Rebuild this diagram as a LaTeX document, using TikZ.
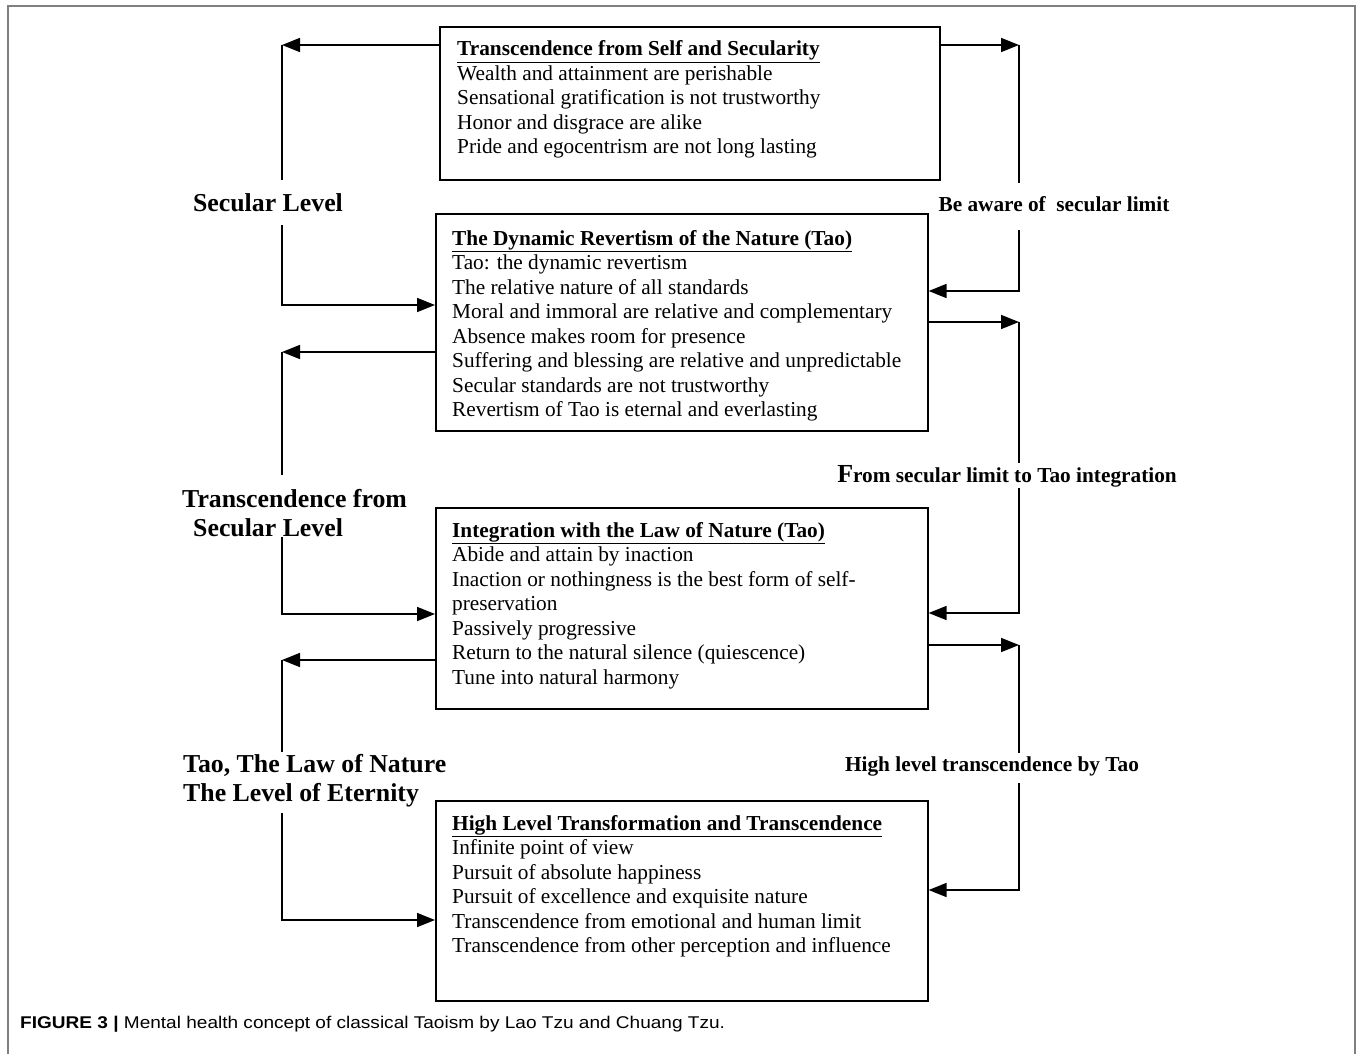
\documentclass[tikz,border=0pt]{standalone}
\usepackage{fontspec}
\setmainfont{Liberation Serif}
\newfontfamily\capfont[FakeStretch=1.12]{Liberation Sans}
\usetikzlibrary{arrows.meta}
\begin{document}
\begin{tikzpicture}[x=1pt,y=-1pt,
  box/.style={draw, line width=1.6pt, inner sep=0pt, anchor=north west},
  body/.style={anchor=north west, inner sep=0pt, align=left, font=\fontsize{21.3}{24.5}\selectfont},
  conn/.style={line width=1.6pt},
  arr/.style={conn, -{Triangle[length=18pt,width=14pt]}},
  llab/.style={font=\bfseries\fontsize{25.8}{29}\selectfont, inner sep=0pt, align=left},
  rlab/.style={font=\bfseries\fontsize{21.3}{24}\selectfont, inner sep=0pt, anchor=base}]
\useasboundingbox (0,0) rectangle (1357,1054);
\draw[gray, line width=1.5pt] (8,1054) -- (8,6) -- (1355,6) -- (1355,1054);

% boxes
\node[box, minimum width=500pt, minimum height=153pt] (b1) at (439,26) {};
\node[box, minimum width=492pt, minimum height=217pt] (b2) at (435,213) {};
\node[box, minimum width=492pt, minimum height=201pt] (b3) at (435,507) {};
\node[box, minimum width=492pt, minimum height=200pt] (b4) at (435,800) {};

\node[body] (t1) at (457,40.8) {\underline{\textbf{Transcendence from Self and Secularity}}\\
Wealth and attainment are perishable\\
Sensational gratification is not trustworthy\\
Honor and disgrace are alike\\
Pride and egocentrism are not long lasting};

\node[body] (t2) at (452,229.8) {\underline{\textbf{The Dynamic Revertism of the Nature (Tao)}}\\
Tao: the dynamic revertism\\
The relative nature of all standards\\
Moral and immoral are relative and complementary\\
Absence makes room for presence\\
Suffering and blessing are relative and unpredictable\\
Secular standards are not trustworthy\\
Revertism of Tao is eternal and everlasting};

\node[body] (t3) at (452,521.8) {\underline{\textbf{Integration with the Law of Nature (Tao)}}\\
Abide and attain by inaction\\
Inaction or nothingness is the best form of self-\\
preservation\\
Passively progressive\\
Return to the natural silence (quiescence)\\
Tune into natural harmony};

\node[body] (t4) at (452,814.8) {\underline{\textbf{High Level Transformation and Transcendence}}\\
Infinite point of view\\
Pursuit of absolute happiness\\
Pursuit of excellence and exquisite nature\\
Transcendence from emotional and human limit\\
Transcendence from other perception and influence};

% left labels
\node[llab, anchor=base] (lab1) at (268,211) {Secular Level};
\node[llab, anchor=north west] (lab2) at (182,489) {Transcendence from\\\hspace*{11pt}Secular Level};
\node[llab, anchor=north west] (lab3) at (183,754) {Tao, The Law of Nature\\The Level of Eternity};

% right labels
\node[rlab] (rl1) at (1054,211.5) {Be aware of \ secular limit};
\node[rlab] (rl2) at (1007,482) {{\fontsize{26}{26}\selectfont F}rom secular limit to Tao integration};
\node[rlab] (rl3) at (992,771) {High level transcendence by Tao};

% left connector points
\coordinate (L1) at (282,45);  \coordinate (L1a) at (282,180); \coordinate (L1b) at (282,225); \coordinate (L2) at (282,305);
\coordinate (L3) at (282,352); \coordinate (L3a) at (282,475); \coordinate (L3b) at (282,537); \coordinate (L4) at (282,614);
\coordinate (L5) at (282,660); \coordinate (L5a) at (282,752); \coordinate (L5b) at (282,813); \coordinate (L6) at (282,920);

% right connector points
\coordinate (R1) at (1019,45);  \coordinate (R1a) at (1019,183); \coordinate (R1b) at (1019,230); \coordinate (R2) at (1019,291);
\coordinate (R3) at (1019,322); \coordinate (R3a) at (1019,463); \coordinate (R3b) at (1019,488); \coordinate (R4) at (1019,613);
\coordinate (R5) at (1019,645); \coordinate (R5a) at (1019,753); \coordinate (R5b) at (1019,783); \coordinate (R6) at (1019,890);

% left connectors
\draw[arr] (L1 -| b1.west) -- (L1);
\draw[conn] (L1) -- (L1a);
\draw[arr] (L1b) -- (L2) -- (L2 -| b2.west);
\draw[arr] (L3 -| b2.west) -- (L3);
\draw[conn] (L3) -- (L3a);
\draw[arr] (L3b) -- (L4) -- (L4 -| b3.west);
\draw[arr] (L5 -| b3.west) -- (L5);
\draw[conn] (L5) -- (L5a);
\draw[arr] (L5b) -- (L6) -- (L6 -| b4.west);

% right connectors
\draw[arr] (R1 -| b1.east) -- (R1);
\draw[conn] (R1) -- (R1a);
\draw[arr] (R1b) -- (R2) -- (R2 -| b2.east);
\draw[arr] (R3 -| b2.east) -- (R3);
\draw[conn] (R3) -- (R3a);
\draw[arr] (R3b) -- (R4) -- (R4 -| b3.east);
\draw[arr] (R5 -| b3.east) -- (R5);
\draw[conn] (R5) -- (R5a);
\draw[arr] (R5b) -- (R6) -- (R6 -| b4.east);

% caption
\node[anchor=base west, inner sep=0pt, font=\capfont\fontsize{17}{20}\selectfont] (cap) at (20,1028)
  {\textbf{FIGURE 3 |} Mental health concept of classical Taoism by Lao Tzu and Chuang Tzu.};
\end{tikzpicture}
\end{document}
